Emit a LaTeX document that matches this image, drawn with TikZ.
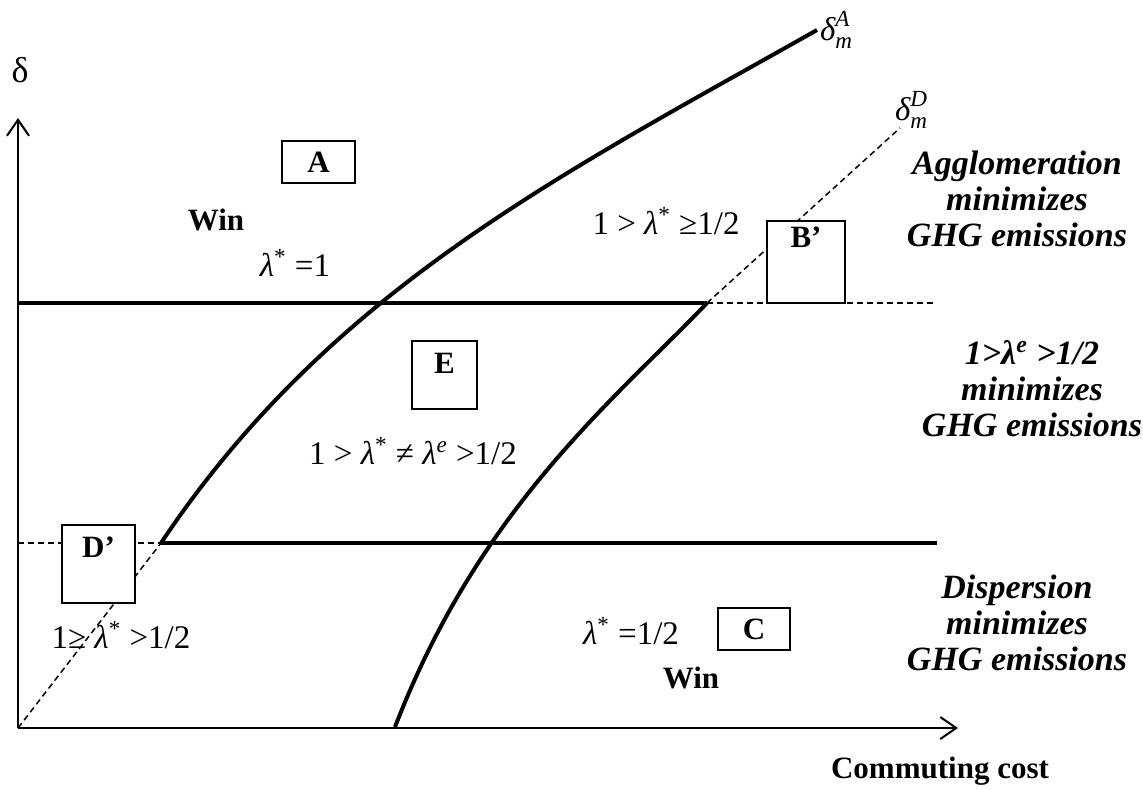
\documentclass[tikz,border=0pt]{standalone}
\usepackage{amsmath}
\usepackage{fontspec}
\setmainfont{Liberation Serif}
\usetikzlibrary{arrows.meta, positioning}

\newcommand{\lam}{\textit{λ}}
\newcommand{\sups}[1]{\textsuperscript{#1}}
\newcommand{\dm}[1]{$\text{\itshape δ}_{\text{\itshape m}}^{\text{\itshape #1}}$}

\begin{document}
\begin{tikzpicture}[
    x=0.5pt, y=-0.5pt,
    axis/.style={line width=1pt, -{Straight Barb[length=8pt, width=11pt]}},
    curve/.style={line width=2pt},
    guide/.style={dash pattern=on 3pt off 2pt, line width=0.75pt},
    box/.style={draw, line width=0.9pt, fill=white, inner sep=0pt},
    tag/.style={font=\fontsize{15.5}{18}\selectfont\bfseries},
    cond/.style={font=\fontsize{16.5}{18}\selectfont},
    note/.style={font=\fontsize{17}{18}\selectfont\bfseries\itshape, align=center},
]
\useasboundingbox (0,0) rectangle (1143,789);

% key points
\coordinate (O) at (18,728);
\coordinate (ytip) at (18,118);
\coordinate (xtip) at (958,728);
\coordinate (hiL) at (18,303);
\coordinate (hiK) at (707,303);
\coordinate (hiR) at (933,303);
\coordinate (loL) at (18,543);
\coordinate (loK) at (161,543);
\coordinate (loR) at (937,543);
\coordinate (topA) at (817,30);
\coordinate (topD) at (900,128);
\coordinate (footD) at (395,727);

% Axes
\draw[axis] (O) -- (ytip);
\draw[axis] (O) -- (xtip);
\node[font=\fontsize{18}{20}\selectfont] (ylbl) at (20,70) {δ};
\node[tag] (xlbl) at (940,771) {Commuting cost};

% Thresholds
\draw[curve] (hiL) -- (hiK);
\draw[guide] (hiK) -- (hiR);
\draw[guide] (loL) -- (loR);
\draw[curve] (loK) -- (loR);

% delta_m^A
\draw[guide] (O) -- (loK);
\draw[curve] (loK) .. controls (330,290) and (560,175) .. (topA);
\node[cond, right=-2pt of topA] (dmA) {\dm{A}};

% delta_m^D
\draw[curve] (footD) .. controls (480,506) and (617,397.5) .. (hiK);
\draw[guide] (hiK) -- (topD);
\node[cond, above right=-4pt and -6pt of topD] (dmD) {\dm{D}};

% Regions
\node[box, minimum width=36.5pt, minimum height=21pt] (boxA) at (318.5,162) {};
\node[tag] (tagA) at (boxA) {A};
\node[tag] (winA) at (216,220) {Win};
\node[cond] (eqA) at (295,263) {\lam\sups{*} =1};

\node[box, minimum width=39pt, minimum height=41pt] (boxB) at (806,262) {};
\node[tag, below=0pt of boxB.north] (tagB) {B’};
\node[cond] (eqB) at (666,221) {1 > \lam\sups{*} ≥1/2};

\node[box, minimum width=32.5pt, minimum height=34pt] (boxE) at (444.5,375) {};
\node[tag, below=3pt of boxE.north] (tagE) {E};
\node[cond] (eqE) at (413,451) {1 > \lam\sups{*} ≠ \lam\sups{\textit{e}} >1/2};

\node[box, minimum width=36.5pt, minimum height=39pt] (boxD) at (98.5,564) {};
\node[tag, below=3pt of boxD.north] (tagD) {D’};
\node[cond] (eqD) at (121,635) {1≥ \lam\sups{*} >1/2};

\node[box, minimum width=36pt, minimum height=21pt] (boxC) at (754,629) {};
\node[tag] (tagC) at (boxC) {C};
\node[cond] (eqC) at (631,631) {\lam\sups{*} =1/2};
\node[tag] (winC) at (691,678) {Win};

% GHG notes
\node[note] (agg) at (1017,199) {Agglomeration\\minimizes\\GHG emissions};
\node[note] (mid) at (1032,389) {1>\lam\sups{e} >1/2\\minimizes\\GHG emissions};
\node[note] (disp) at (1017,623) {Dispersion\\minimizes\\GHG emissions};
\end{tikzpicture}
\end{document}
